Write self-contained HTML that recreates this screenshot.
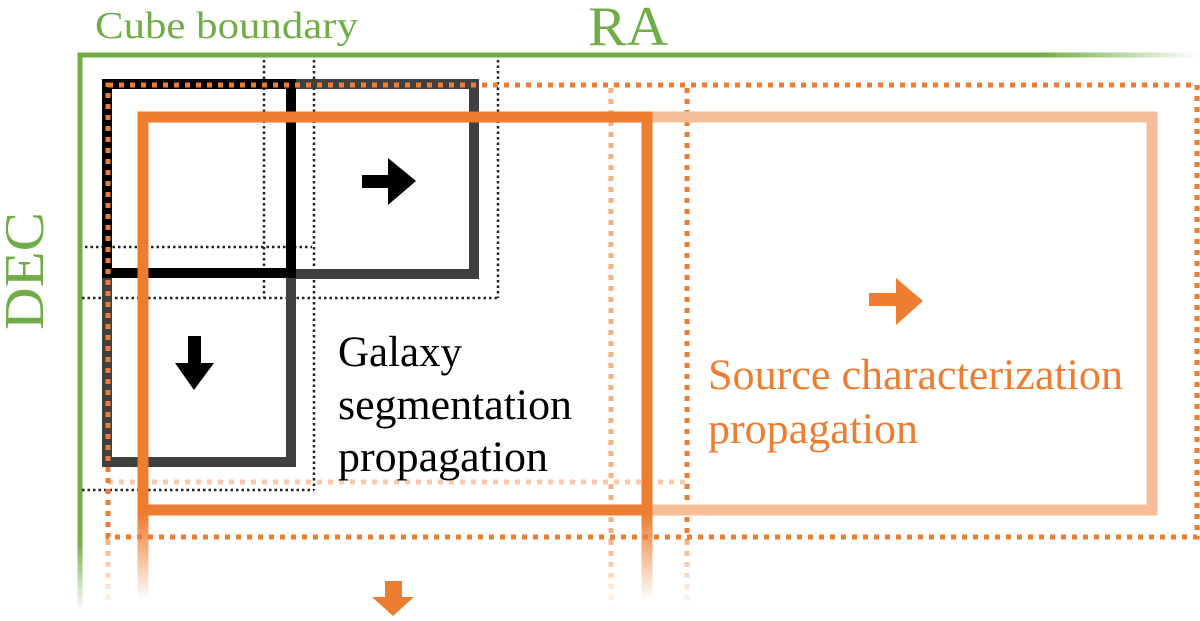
<!DOCTYPE html>
<html><head><meta charset="utf-8"><style>html,body{margin:0;padding:0;background:#fff}svg{display:block}</style></head>
<body>
<svg width="1200" height="621" viewBox="0 0 1200 621" xmlns="http://www.w3.org/2000/svg">
<defs>
<linearGradient id="gh" gradientUnits="userSpaceOnUse" x1="1040" y1="0" x2="1200" y2="0"><stop offset="0" stop-color="#70AD47"/><stop offset="1" stop-color="#70AD47" stop-opacity="0"/></linearGradient>
<linearGradient id="gv" gradientUnits="userSpaceOnUse" x1="0" y1="540" x2="0" y2="612"><stop offset="0" stop-color="#70AD47"/><stop offset="1" stop-color="#70AD47" stop-opacity="0"/></linearGradient>
<linearGradient id="ov" gradientUnits="userSpaceOnUse" x1="0" y1="515" x2="0" y2="600"><stop offset="0" stop-color="#ED7D31"/><stop offset="1" stop-color="#ED7D31" stop-opacity="0"/></linearGradient>
<linearGradient id="ovl" gradientUnits="userSpaceOnUse" x1="0" y1="540" x2="0" y2="612"><stop offset="0" stop-color="#F4B183"/><stop offset="1" stop-color="#F4B183" stop-opacity="0"/></linearGradient>
</defs>

<line x1="78" y1="55" x2="1200" y2="55" stroke="url(#gh)" stroke-width="5"/>
<line x1="80" y1="53" x2="80" y2="612" stroke="url(#gv)" stroke-width="5"/>

<g stroke="#222" stroke-width="2.5" stroke-dasharray="2.5 3" fill="none">
<line x1="264" y1="60" x2="264" y2="298"/>
<line x1="314" y1="60" x2="314" y2="490"/>
<line x1="498" y1="60" x2="498" y2="298"/>
<line x1="85" y1="247" x2="312" y2="247"/>
<line x1="82" y1="298" x2="498" y2="298"/>
<line x1="82" y1="490" x2="314" y2="490"/>
</g>

<rect x="291" y="84" width="183" height="190" fill="none" stroke="#404040" stroke-width="10"/>
<rect x="107" y="273" width="184" height="189" fill="none" stroke="#404040" stroke-width="10"/>
<rect x="107" y="84" width="184" height="189" fill="none" stroke="#000" stroke-width="10"/>

<g stroke-width="5" stroke-dasharray="5 6" fill="none">
<line x1="108" y1="482" x2="686" y2="482" stroke="#F8CBAD"/>
<line x1="611" y1="88" x2="611" y2="540" stroke="#F4B183"/>
<line x1="611" y1="540" x2="611" y2="612" stroke="url(#ovl)"/>
<line x1="687" y1="88" x2="687" y2="540" stroke="#ED7D31"/>
<line x1="687" y1="540" x2="687" y2="612" stroke="url(#ovl)"/>
<rect x="108" y="85" width="1089" height="452" stroke="#ED7D31"/>
<line x1="108" y1="540" x2="108" y2="612" stroke="url(#ovl)"/>
</g>

<rect x="647" y="117" width="505" height="393" fill="none" stroke="#F6BE98" stroke-width="11"/>
<rect x="143" y="117" width="504" height="393" fill="none" stroke="#ED7D31" stroke-width="11"/>
<line x1="143" y1="515" x2="143" y2="605" stroke="url(#ov)" stroke-width="11"/>
<line x1="647" y1="515" x2="647" y2="605" stroke="url(#ov)" stroke-width="11"/>

<polygon points="362,175 388,175 388,158 416,181 388,205 388,188 362,188" fill="#000"/>
<polygon points="188,336 201,336 201,363 214,363 194,390 175,363 188,363" fill="#000"/>
<polygon points="869,293 896,293 896,278 923,301 896,325 896,306 869,306" fill="#ED7D31"/>
<polygon points="385,581 402,581 402,597 414,597 393,616 372,597 385,597" fill="#ED7D31"/>

<g font-family="'Liberation Serif', serif">
<text x="95" y="38" font-size="38" fill="#70AD47" textLength="263" lengthAdjust="spacingAndGlyphs">Cube boundary</text>
<text x="588" y="45" font-size="56" fill="#70AD47" textLength="80" lengthAdjust="spacingAndGlyphs">RA</text>
<text transform="translate(43,330) rotate(-90)" x="0" y="0" font-size="56" fill="#70AD47" textLength="118" lengthAdjust="spacingAndGlyphs">DEC</text>
<text font-size="43" fill="#000">
<tspan x="338" y="366" textLength="124" lengthAdjust="spacingAndGlyphs">Galaxy</tspan>
<tspan x="338" y="419" textLength="234" lengthAdjust="spacingAndGlyphs">segmentation</tspan>
<tspan x="338" y="471" textLength="210" lengthAdjust="spacingAndGlyphs">propagation</tspan></text>
<text font-size="43" fill="#ED7D31">
<tspan x="708" y="389" textLength="415" lengthAdjust="spacingAndGlyphs">Source characterization</tspan>
<tspan x="708" y="443" textLength="210" lengthAdjust="spacingAndGlyphs">propagation</tspan></text>
</g>
</svg>
</body></html>
